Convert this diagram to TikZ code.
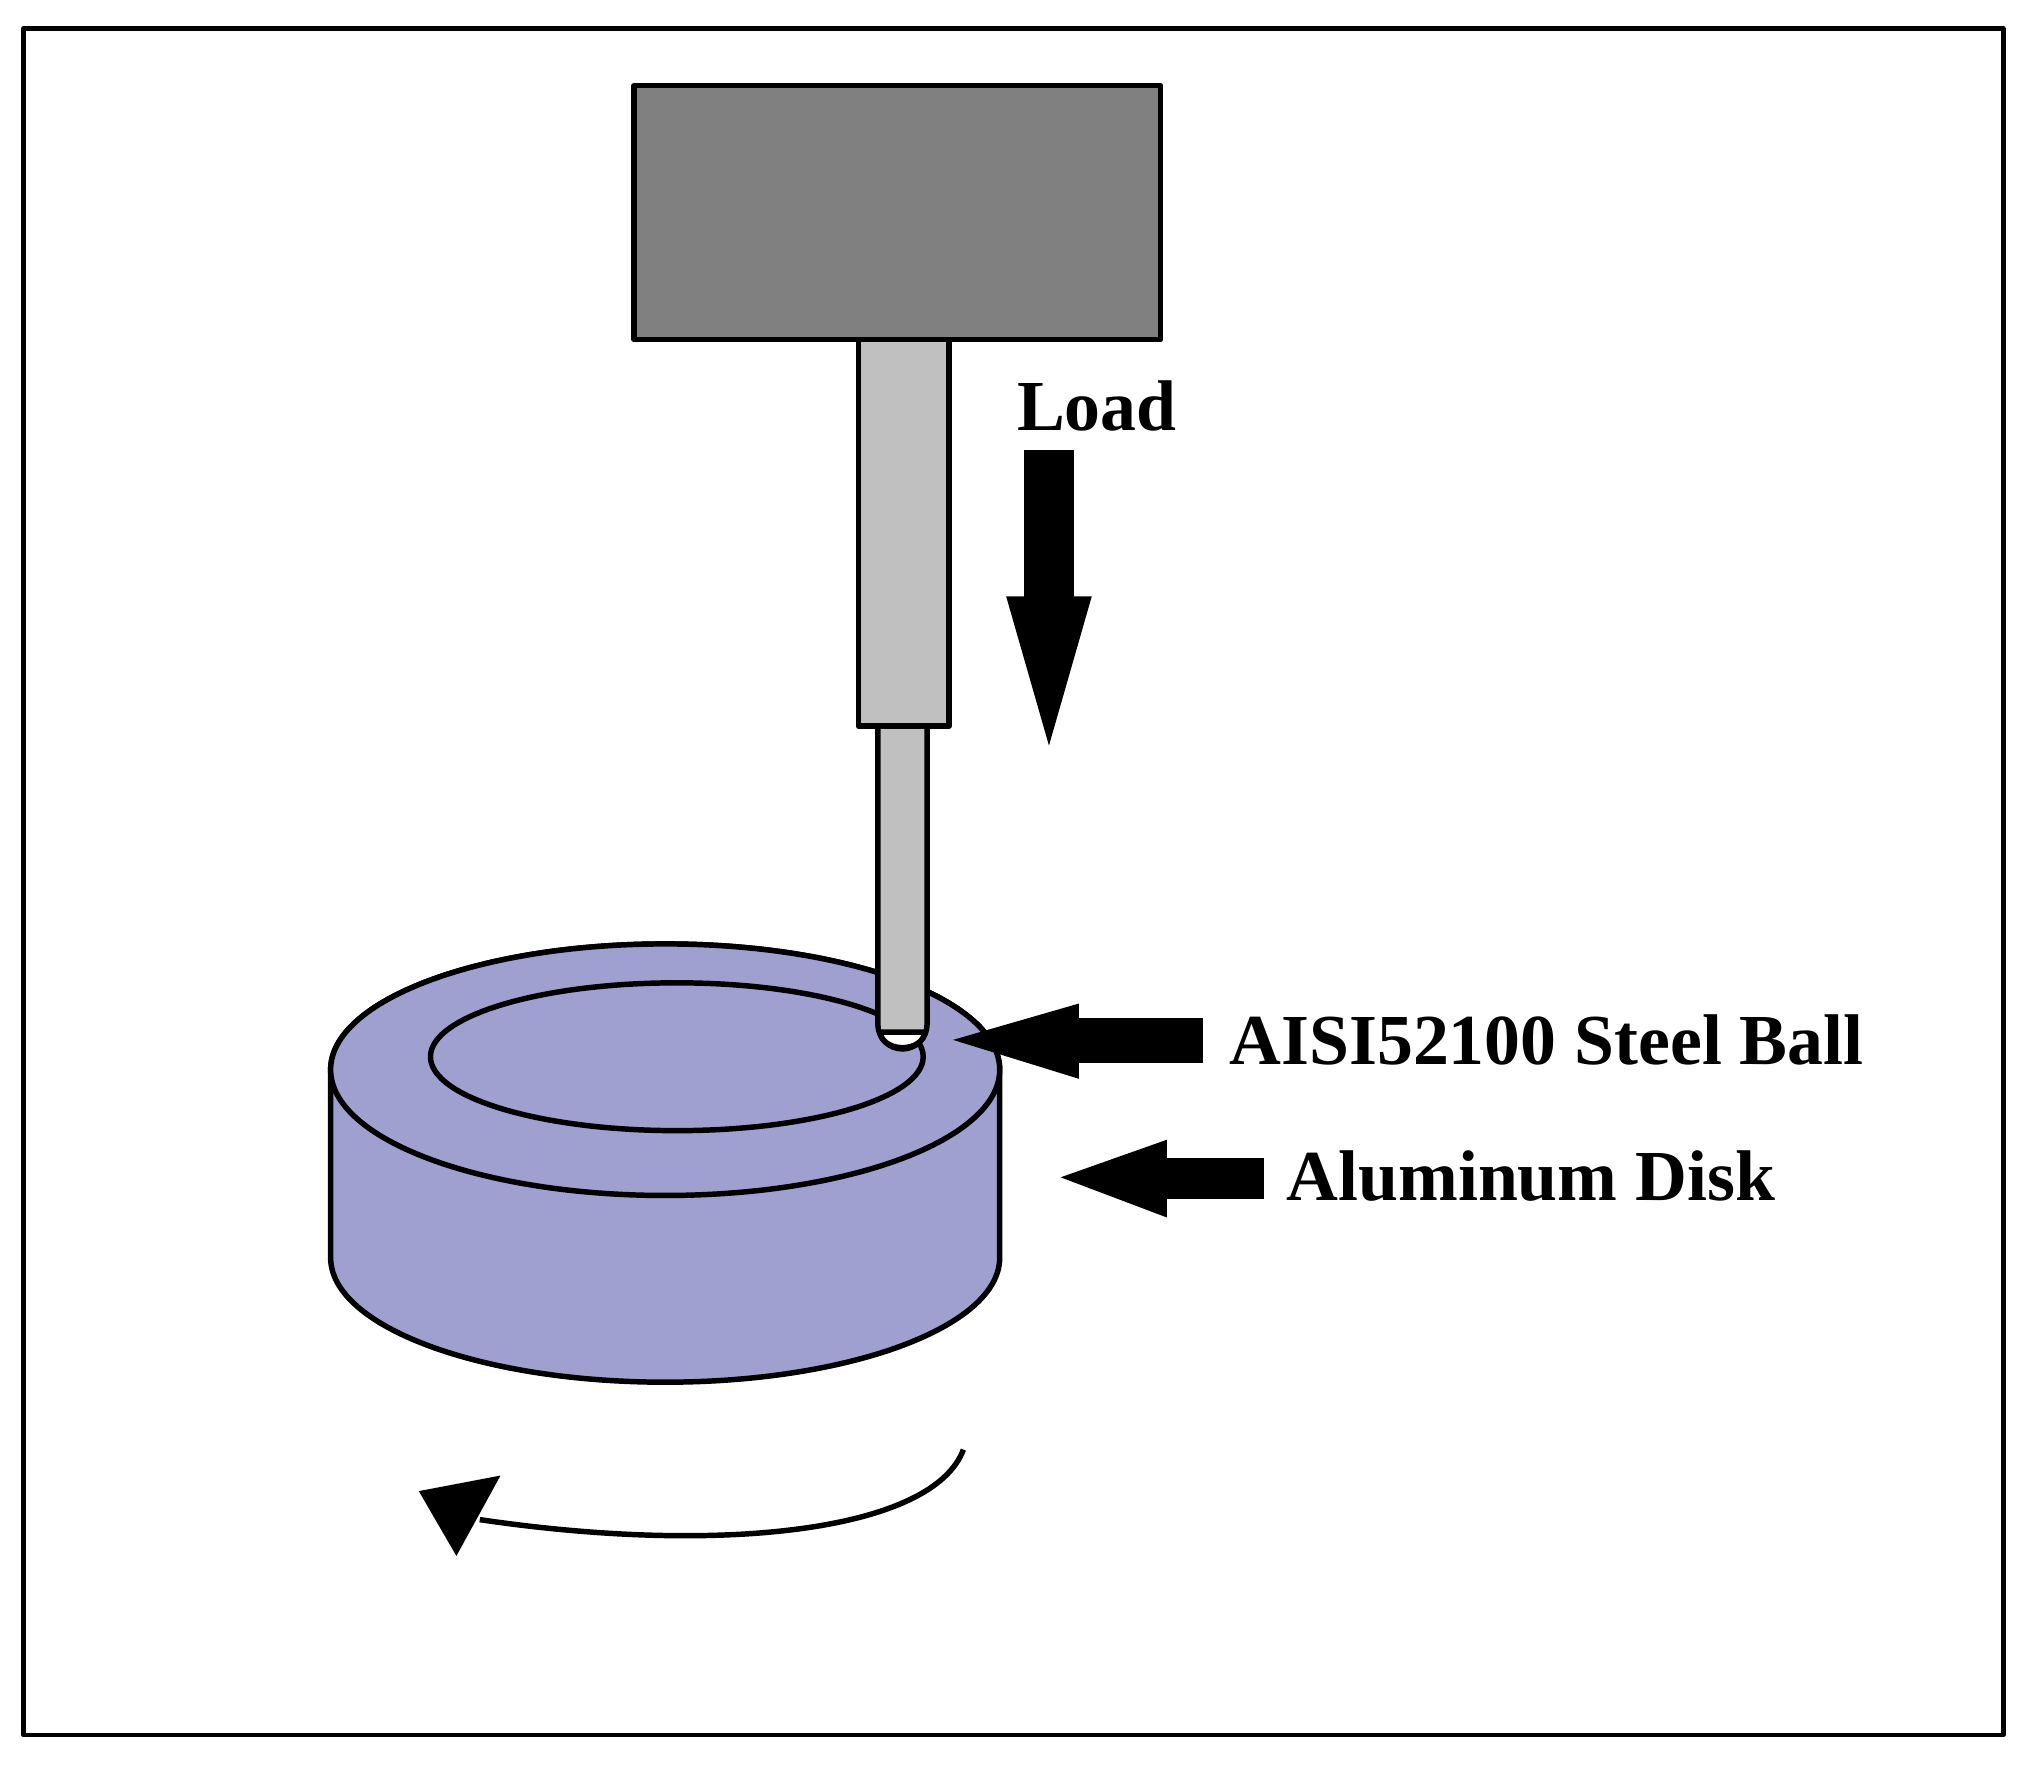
\documentclass[tikz,border=0pt]{standalone}
\usepackage{fontspec}
\setmainfont{Liberation Serif}
\begin{document}
\begin{tikzpicture}[x=0.02cm,y=-0.02cm,line join=round]
\definecolor{disk}{RGB}{160,160,208}
\definecolor{dgray}{RGB}{128,128,128}
\definecolor{lgray}{RGB}{192,192,192}
\tikzset{ol/.style={draw=black,line width=2.4pt},
lbl/.style={font=\bfseries\fontsize{31.5}{36}\selectfont,anchor=west,inner sep=0pt}}
\useasboundingbox (0,0) rectangle (1561,1361);
\draw[line width=2pt] (18,22) rectangle (1545,1338);
% head and shaft
\draw[ol,fill=dgray] (489,66) rectangle (895,262);
\draw[ol,fill=lgray] (662,262) rectangle (732,560);
% disk
\draw[ol,fill=disk] (255,825) -- (255,970) arc[start angle=180,end angle=0,x radius=258,y radius=96] -- (771,825) arc[start angle=0,end angle=-180,x radius=258,y radius=97] -- cycle;
\draw[ol,fill=disk] (513,825) ellipse[x radius=258,y radius=97];
\draw[ol] (522,815) ellipse[x radius=190,y radius=57];
% rod
\draw[ol,fill=lgray] (677,560) -- (677,790) arc[start angle=180,end angle=0,radius=19] -- (715,560) -- cycle;
\draw[ol,fill=white] (679,796) arc[start angle=180,end angle=0,x radius=17,y radius=12] -- cycle;
% load arrow
\node[lbl] (load) at (784,313) {Load};
\fill (790,347) rectangle (828,462);
\fill (776,460) -- (842,460) -- (809,575) -- cycle;
% steel ball arrow
\node[lbl] (ball) at (948,802) {AISI52100 Steel Ball};
\fill (828,785) rectangle (928,820);
\fill (735,802) -- (832,774) -- (832,832) -- cycle;
% disk arrow
\node[lbl] (al) at (992,907) {Aluminum Disk};
\fill (898,893) rectangle (975,925);
\fill (818,908) -- (900,879) -- (900,939) -- cycle;
% rotation
\draw[line width=2.4pt] (743,1118) .. controls (720,1180) and (560,1200) .. (370,1172);
\fill (323,1150) -- (386,1138) -- (352,1200) -- cycle;
\end{tikzpicture}
\end{document}
